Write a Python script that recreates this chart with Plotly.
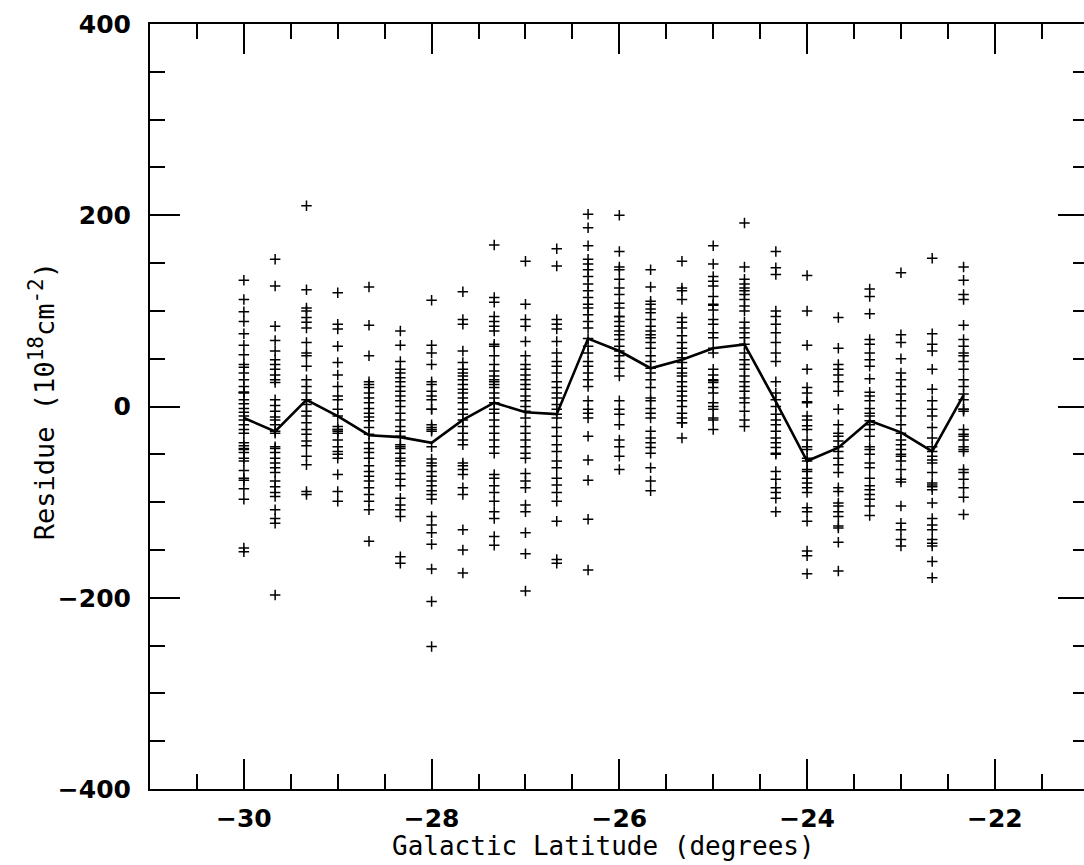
import plotly.graph_objects as go

# Galactic latitude of each column of residues (degrees)
latitudes = [-30.0, -29.667, -29.333, -29.0, -28.667, -28.333, -28.0, -27.667,
             -27.333, -27.0, -26.667, -26.333, -26.0, -25.667, -25.333, -25.0,
             -24.667, -24.333, -24.0, -23.667, -23.333, -23.0, -22.667, -22.333]

# Individual residues in each column (1e18 cm^-2)
res_m30_00 = [132, 112, 99, 89, 76, 64, 54, 44, 41, 35, 28, 21, 15, 15, 14, 7, 3, -2, -6, -10, -14, -19, -24, -28, -38, -41, -44, -45, -48, -54, -57, -67, -75, -77, -86, -97, -148, -152]
res_m29_67 = [154, 126, 84, 69, 58, 49, 44, 39, 33, 28, 25, 7, 1, -5, -11, -14, -19, -26, -28, -42, -44, -48, -54, -59, -64, -69, -78, -84, -90, -94, -108, -117, -122, -197]
res_m29_33 = [210, 122, 103, 100, 93, 88, 82, 67, 56, 53, 42, 28, 21, 14, 7, 2, -5, -10, -17, -24, -29, -36, -41, -52, -61, -89, -92]
res_m29_00 = [119, 86, 81, 63, 46, 33, 21, 11, 7, -3, -10, -21, -24, -24, -26, -28, -35, -42, -47, -50, -54, -71, -89, -99]
res_m28_67 = [125, 85, 53, 26, 23, 20, 14, 9, 4, -2, -7, -11, -15, -22, -29, -38, -44, -48, -54, -62, -68, -73, -78, -85, -92, -99, -108, -141]
res_m28_33 = [79, 64, 47, 39, 35, 30, 26, 21, 16, 11, 6, 0, -7, -14, -21, -26, -31, -40, -42, -44, -49, -54, -57, -62, -70, -76, -83, -96, -103, -108, -115, -157, -164]
res_m28_00 = [111, 64, 56, 44, 26, 23, 16, 11, 7, -3, -3, -19, -22, -24, -26, -42, -55, -59, -62, -68, -73, -78, -83, -88, -92, -97, -115, -124, -132, -144, -170, -204, -251]
res_m27_67 = [120, 91, 86, 58, 46, 39, 35, 32, 28, 23, 18, 14, 9, 4, -3, -8, -14, -21, -28, -35, -40, -59, -62, -66, -71, -85, -92, -129, -150, -174]
res_m27_33 = [169, 114, 109, 94, 89, 84, 79, 65, 63, 53, 44, 37, 32, 28, 26, 23, 20, 14, 9, 4, -3, -7, -14, -21, -28, -35, -42, -49, -71, -75, -83, -90, -99, -110, -117, -136, -145]
res_m27_00 = [152, 107, 91, 84, 68, 53, 44, 39, 33, 28, 23, 18, 11, 6, 0, -5, -12, -21, -28, -35, -42, -49, -54, -70, -78, -85, -103, -110, -132, -154, -193]
res_m26_67 = [165, 147, 91, 86, 81, 68, 56, 47, 42, 35, 26, 20, 14, 9, 2, -3, -8, -12, -22, -31, -40, -47, -57, -64, -75, -82, -90, -99, -120, -160, -164]
res_m26_33 = [201, 187, 168, 154, 149, 143, 136, 128, 121, 114, 107, 103, 96, 89, 82, 71, 63, 56, 47, 42, 35, 28, 21, 6, -3, -7, -12, -31, -56, -77, -118, -171]
res_m26_00 = [200, 162, 146, 143, 133, 124, 117, 108, 103, 94, 94, 89, 84, 79, 75, 70, 63, 58, 53, 47, 40, 32, 6, -3, -8, -19, -35, -42, -52, -66]
res_m25_67 = [143, 125, 110, 107, 102, 98, 91, 84, 79, 75, 72, 67, 61, 53, 47, 40, 35, 28, 20, 9, 6, -2, -7, -12, -26, -33, -38, -43, -49, -64, -78, -88]
res_m25_33 = [152, 124, 121, 112, 93, 88, 82, 74, 67, 61, 56, 51, 46, 40, 35, 32, 26, 21, 16, 11, 6, 0, -7, -12, -17, -17, -33]
res_m25_00 = [168, 149, 136, 131, 126, 115, 107, 106, 101, 91, 86, 77, 72, 61, 56, 39, 33, 28, 27, 25, 20, 14, 4, 0, -3, -12, -14, -24]
res_m24_67 = [192, 146, 133, 128, 124, 121, 117, 112, 105, 100, 88, 82, 77, 72, 65, 56, 49, 44, 39, 32, 26, 21, 16, 9, 4, -5, -14, -21]
res_m24_33 = [162, 145, 138, 100, 94, 86, 77, 67, 56, 47, 26, 14, 7, 0, -8, -14, -19, -26, -33, -38, -43, -49, -50, -68, -76, -85, -90, -96, -110]
res_m24_00 = [137, 100, 64, 39, 20, 14, 5, 4, -10, -14, -20, -24, -35, -42, -45, -54, -57, -66, -68, -75, -80, -85, -90, -106, -110, -120, -151, -156, -175]
res_m23_67 = [93, 61, 44, 39, 33, 26, 16, -3, -19, -28, -31, -36, -42, -47, -54, -61, -69, -85, -89, -101, -104, -110, -115, -125, -127, -142, -172]
res_m23_33 = [123, 115, 97, 70, 65, 56, 49, 42, 29, 15, 11, 6, -2, -7, -10, -15, -19, -24, -31, -42, -45, -50, -59, -64, -75, -83, -87, -92, -97, -104, -114]
res_m23_00 = [140, 75, 67, 50, 35, 28, 21, 13, 6, -2, -10, -19, -28, -35, -40, -45, -50, -52, -57, -66, -76, -79, -104, -122, -129, -139, -146]
res_m22_67 = [155, 76, 65, 58, 39, 18, 6, -3, -10, -22, -33, -42, -47, -52, -56, -59, -69, -80, -82, -84, -87, -101, -117, -124, -129, -139, -143, -146, -162, -179]
res_m22_33 = [146, 132, 117, 112, 85, 70, 63, 56, 53, 47, 39, 28, 21, 13, 7, -3, -3, -5, -24, -29, -31, -35, -42, -45, -47, -66, -69, -76, -85, -95, -113]

residues = [res_m30_00, res_m29_67, res_m29_33, res_m29_00, res_m28_67, res_m28_33,
            res_m28_00, res_m27_67, res_m27_33, res_m27_00, res_m26_67, res_m26_33,
            res_m26_00, res_m25_67, res_m25_33, res_m25_00, res_m24_67, res_m24_33,
            res_m24_00, res_m23_67, res_m23_33, res_m23_00, res_m22_67, res_m22_33]

# Column mean (solid line)
mean_residue = [-12, -26, 7, -10, -30, -32, -38, -14, 4, -6, -8, 71,
                58, 40, 49, 61, 65, 5, -57, -43, -15, -27, -47, 12]

x_tick_vals = [-30, -28, -26, -24, -22]
x_tick_text = ["\u221230", "\u221228", "\u221226", "\u221224", "\u221222"]
y_tick_vals = [-400, -200, 0, 200, 400]
y_tick_text = ["\u2212400", "\u2212200", "0", "200", "400"]

pts_x = []
pts_y = []
for lat, col in zip(latitudes, residues):
    for v in col:
        pts_x.append(lat)
        pts_y.append(v)

fig = go.Figure()
fig.add_trace(go.Scatter(
    x=pts_x, y=pts_y, mode="markers",
    marker=dict(symbol="cross-thin", size=7.5, color="black",
                line=dict(color="black", width=1.5)),
    showlegend=False, hoverinfo="skip"))
fig.add_trace(go.Scatter(
    x=latitudes, y=mean_residue, mode="lines",
    line=dict(color="black", width=2.6),
    showlegend=False, hoverinfo="skip"))
fig.add_trace(go.Scatter(x=[], y=[], yaxis="y2", showlegend=False))

tickfont = dict(family="DejaVu Sans", size=25, color="black", weight="bold")
titlefont = dict(family="DejaVu Sans Mono", size=26, color="black")

fig.update_layout(
    width=1084, height=865,
    margin=dict(l=150, r=0, t=24, b=76),
    paper_bgcolor="white", plot_bgcolor="white",
    xaxis=dict(
        range=[-31, -21.05], tickvals=x_tick_vals, ticktext=x_tick_text,
        ticks="inside", ticklen=30, tickwidth=2, tickcolor="black",
        minor=dict(dtick=0.5, tick0=-31, ticks="inside", ticklen=15,
                   tickwidth=2, tickcolor="black"),
        showline=True, linewidth=2, linecolor="black", mirror="ticks",
        showgrid=False, zeroline=False, tickfont=tickfont,
        ticklabelstandoff=6),
    yaxis=dict(
        range=[-400, 400], tickvals=y_tick_vals, ticktext=y_tick_text,
        ticks="inside", ticklen=30, tickwidth=2, tickcolor="black",
        minor=dict(dtick=50, tick0=0, ticks="inside", ticklen=15,
                   tickwidth=2, tickcolor="black"),
        showline=True, linewidth=2, linecolor="black", mirror=False,
        showgrid=False, zeroline=False, tickfont=tickfont,
        ticklabelstandoff=12),
    yaxis2=dict(
        range=[-400, 400], overlaying="y", side="right", anchor="x",
        tickvals=y_tick_vals, showticklabels=False,
        ticks="inside", ticklen=26, tickwidth=2, tickcolor="black",
        minor=dict(dtick=50, tick0=0, ticks="inside", ticklen=11,
                   tickwidth=2, tickcolor="black"),
        showline=False, showgrid=False, zeroline=False),
    annotations=[
        dict(text="Galactic Latitude (degrees)", xref="paper", yref="paper",
             x=0.486, y=-0.097, xanchor="center", yanchor="bottom",
             showarrow=False, font=titlefont),
        dict(text="Residue (10<sup><span style='font-size:21px'>18</span></sup>"
                  "cm<sup><span style='font-size:21px'>-2</span></sup>)",
             xref="paper", yref="paper", x=-0.1156, y=0.507,
             xanchor="center", yanchor="middle", textangle=-90,
             showarrow=False, font=dict(family="DejaVu Sans Mono", size=27,
                                        color="black")),
    ],
)

fig.write_html("out.html")
